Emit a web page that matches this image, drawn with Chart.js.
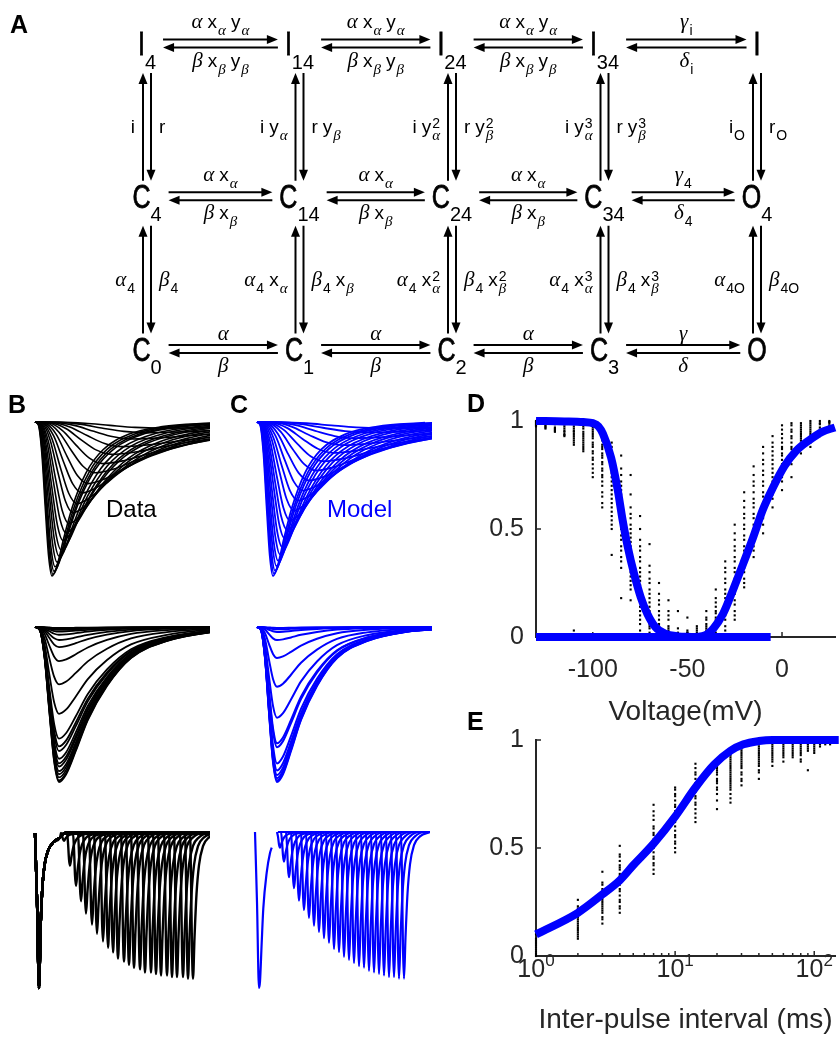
<!DOCTYPE html>
<html>
<head>
<meta charset="utf-8">
<script src="https://cdn.jsdelivr.net/npm/chart.js@4/dist/chart.umd.min.js"></script>
<style>
  body { margin: 0; background: #fff; }
  #page { position: relative; width: 839px; height: 1038px; overflow: hidden; font-family: "Liberation Sans", Arial, sans-serif; }
  canvas { position: absolute; }
  .lbl { position: absolute; line-height: 1; white-space: nowrap; }
  .panel { font-weight: bold; font-size: 25px; color: #000; }
</style>
</head>
<body>
<div id="page">
  <canvas id="chartA"></canvas>
  <canvas id="chartB1"></canvas>
  <canvas id="chartB2"></canvas>
  <canvas id="chartB3"></canvas>
  <canvas id="chartC1"></canvas>
  <canvas id="chartC2"></canvas>
  <canvas id="chartC3"></canvas>
  <canvas id="chartD"></canvas>
  <canvas id="chartE"></canvas>
  <div class="lbl panel" style="left:10px;top:12px">A</div>
  <div class="lbl panel" style="left:8px;top:392px">B</div>
  <div class="lbl panel" style="left:230px;top:392px">C</div>
  <div class="lbl panel" style="left:467px;top:391px">D</div>
  <div class="lbl panel" style="left:467px;top:709px">E</div>
  <div class="lbl" style="left:106px;top:497px;font-size:24px;color:#000">Data</div>
  <div class="lbl" style="left:327px;top:497px;font-size:24px;color:#0000ff">Model</div>
</div>
<script>
// ---------- A: kinetic scheme ----------
var stateRows = [
    ['I_4', 'I_14', 'I_24', 'I_34', 'I'],
    ['C_4', 'C_14', 'C_24', 'C_34', 'O_4'],
    ['C_0', 'C_1', 'C_2', 'C_3', 'O']
];
var rateRight = [
    ['α x_α y_α', 'α x_α y_α', 'α x_α y_α', 'γ_i'],
    ['α x_α', 'α x_α', 'α x_α', 'γ_4'],
    ['α', 'α', 'α', 'γ']
];
var rateLeft = [
    ['β x_β y_β', 'β x_β y_β', 'β x_β y_β', 'δ_i'],
    ['β x_β', 'β x_β', 'β x_β', 'δ_4'],
    ['β', 'β', 'β', 'δ']
];
var rateUp = [
    ['i', 'i y_α', 'i y^2_α', 'i y^3_α', 'i_O'],
    ['α_4', 'α_4 x_α', 'α_4 x^2_α', 'α_4 x^3_α', 'α_4O']
];
var rateDown = [
    ['r', 'r y_β', 'r y^2_β', 'r y^3_β', 'r_O'],
    ['β_4', 'β_4 x_β', 'β_4 x^2_β', 'β_4 x^3_β', 'β_4O']
];

// ---------- B/C top: activation family (time ms, normalised current) ----------
var actShapeU = [0, 0.2, 0.4, 0.6, 0.8, 1.0, 1.3, 1.7, 2.2, 3.0, 4.0, 5.5, 7.5, 10.5];
var actShapeF = [0, 0.02, 0.2, 0.55, 0.87, 1.0, 0.93, 0.75, 0.55, 0.33, 0.18, 0.08, 0.03, 0.005];
var dataActPeakT = [1.7, 1.8, 1.9, 2.0, 2.2, 2.4, 2.6, 2.8, 3.1, 3.4, 3.8, 4.2, 4.7, 5.3, 6.0, 6.8, 7.7, 8.7, 9.8, 11.1, 12.5];
var dataActPeakI = [-1.0, -0.99, -0.97, -0.94, -0.91, -0.87, -0.83, -0.77, -0.72, -0.66, -0.59, -0.53, -0.46, -0.4, -0.33, -0.27, -0.21, -0.16, -0.11, -0.07, -0.04];
var modelActPeakT = [1.6, 1.7, 1.8, 1.95, 2.1, 2.3, 2.5, 2.75, 3.0, 3.3, 3.7, 4.1, 4.6, 5.2, 5.9, 6.7, 7.6, 8.6, 9.7, 11.0, 12.4];
var modelActPeakI = [-1.0, -0.985, -0.965, -0.935, -0.9, -0.86, -0.81, -0.755, -0.7, -0.64, -0.575, -0.51, -0.445, -0.38, -0.315, -0.255, -0.2, -0.15, -0.105, -0.068, -0.04];

// ---------- B/C middle: steady-state inactivation ----------
var inaShapeU = [0, 0.2, 0.4, 0.6, 0.8, 1.0, 1.3, 1.7, 2.2, 3.0, 4.0, 5.5, 7.5, 9.5];
var inaShapeF = [0, 0.02, 0.2, 0.55, 0.87, 1.0, 0.95, 0.8, 0.6, 0.38, 0.2, 0.09, 0.03, 0.01];
var dataInaPeakT = 2.4;
var modelInaPeakT = 2.0;
var dataInaAmp = [-1.0, -0.99, -0.97, -0.95, -0.93, -0.9, -0.88, -0.85, -0.8, -0.77, -0.72, -0.56, -0.37, -0.22, -0.13, -0.084, -0.05, -0.03, -0.019, -0.012, -0.006];
var modelInaAmp = [-1.0, -0.99, -0.975, -0.955, -0.925, -0.88, -0.775, -0.75, -0.585, -0.385, -0.2, -0.084, -0.032, -0.015, -0.006];

// ---------- B/C bottom: paired pulses ----------
var spikeDt = [-3, -2, -1, 0, 1.5, 3.5, 6, 10, 16, 26];
var spikeF = [0, 0.3, 0.8, 1.0, 0.72, 0.42, 0.22, 0.09, 0.03, 0];
var dataFirstT = [0, 2, 4, 5.7, 7.7, 10, 13.3, 18.3, 25, 30];
var dataFirstI = [0, -0.43, -1.0, -0.59, -0.32, -0.19, -0.11, -0.06, -0.03, 0];
var dataPairT = [29, 35, 41, 46, 51, 57, 62, 68, 73, 78, 83, 89, 94, 99, 105, 110, 116, 121, 126, 132, 137, 142, 148, 153, 158];
var dataPairI = [-0.05, -0.21, -0.34, -0.44, -0.52, -0.59, -0.65, -0.7, -0.74, -0.77, -0.81, -0.83, -0.85, -0.87, -0.88, -0.9, -0.9, -0.91, -0.92, -0.92, -0.93, -0.93, -0.93, -0.94, -0.94];
var modelFirstT = [0, 2, 4, 5, 6.7, 8.3, 11.7, 15, 16.7];
var modelFirstI = [0, -0.45, -1.0, -0.96, -0.71, -0.49, -0.26, -0.135, -0.1];
var modelPairStart = 23;
var modelPairT = [25, 29, 34, 39, 44, 49, 54, 59, 64, 69, 74, 79, 84, 89, 94, 99, 104, 109, 114, 119, 124, 129, 134, 139, 144, 149];
var modelPairI = [-0.1, -0.19, -0.29, -0.36, -0.44, -0.5, -0.55, -0.6, -0.64, -0.68, -0.71, -0.75, -0.77, -0.8, -0.82, -0.84, -0.86, -0.87, -0.89, -0.9, -0.91, -0.92, -0.93, -0.93, -0.94, -0.94];

// ---------- D: inactivation / activation (mV, normalised) ----------
var inactV = [-130, -125, -120, -115, -110, -105, -100, -95, -90, -85, -80, -75, -70, -65, -60, -55, -50];
var inactDots = [
    [1.0, 0.995, 0.99, 0.985, 0.98, 0.975],
    [0.995, 0.99, 0.98, 0.975, 0.97, 0.965],
    [0.99, 0.985, 0.97, 0.965, 0.96, 0.955, 0.95],
    [0.985, 0.975, 0.965, 0.955, 0.95, 0.94, 0.935, 0.93],
    [0.975, 0.965, 0.955, 0.95, 0.94, 0.93, 0.92, 0.91, 0.9, 0.89, 0.03],
    [0.975, 0.965, 0.95, 0.94, 0.93, 0.92, 0.91, 0.9, 0.89, 0.88, 0.87, 0.86],
    [0.99, 0.98, 0.97, 0.96, 0.95, 0.94, 0.93, 0.92, 0.9, 0.89, 0.88, 0.86, 0.85, 0.83, 0.82, 0.8, 0.78, 0.76, 0.74],
    [0.94, 0.92, 0.91, 0.89, 0.88, 0.87, 0.85, 0.84, 0.83, 0.81, 0.8, 0.78, 0.77, 0.75, 0.74, 0.72, 0.7, 0.67, 0.65, 0.62, 0.6],
    [0.9, 0.88, 0.86, 0.84, 0.82, 0.8, 0.78, 0.76, 0.74, 0.72, 0.7, 0.68, 0.66, 0.64, 0.62, 0.6, 0.58, 0.56, 0.54, 0.52, 0.5, 0.38],
    [0.84, 0.78, 0.75, 0.72, 0.7, 0.68, 0.66, 0.64, 0.62, 0.6, 0.58, 0.56, 0.54, 0.52, 0.5, 0.47, 0.45, 0.42, 0.4, 0.37, 0.35, 0.32, 0.18],
    [0.75, 0.66, 0.6, 0.57, 0.55, 0.52, 0.5, 0.48, 0.46, 0.44, 0.42, 0.4, 0.38, 0.36, 0.34, 0.32, 0.3, 0.28, 0.26, 0.24, 0.22, 0.17],
    [0.56, 0.5, 0.45, 0.42, 0.4, 0.37, 0.35, 0.32, 0.3, 0.28, 0.26, 0.24, 0.22, 0.2, 0.18, 0.16, 0.14, 0.12, 0.1, 0.08, 0.06, 0.03],
    [0.43, 0.33, 0.3, 0.27, 0.25, 0.22, 0.2, 0.18, 0.16, 0.14, 0.12, 0.1, 0.09, 0.07, 0.06, 0.05, 0.04, 0.02, 0.01],
    [0.25, 0.2, 0.17, 0.15, 0.12, 0.1, 0.08, 0.06, 0.05, 0.03, 0.02, 0.01, 0.0],
    [0.17, 0.12, 0.1, 0.08, 0.05, 0.04, 0.03, 0.01],
    [0.12, 0.04, 0.02, 0.01],
    [0.09, 0.02]
];
var actV = [-50, -45, -40, -35, -30, -25, -20, -15, -10, -5, 0, 5, 10, 15, 20, 25];
var actDots = [
    [0.03, 0.02, 0.01, 0.0],
    [0.05, 0.04, 0.03, 0.02, 0.01],
    [0.12, 0.09, 0.08, 0.06, 0.05, 0.04, 0.03, 0.01],
    [0.22, 0.18, 0.16, 0.14, 0.12, 0.11, 0.09, 0.08, 0.07, 0.05, 0.04, 0.02],
    [0.35, 0.32, 0.3, 0.27, 0.25, 0.22, 0.2, 0.18, 0.16, 0.14, 0.12, 0.1, 0.08, 0.05, 0.03],
    [0.52, 0.48, 0.45, 0.42, 0.4, 0.37, 0.35, 0.32, 0.3, 0.27, 0.25, 0.22, 0.2, 0.17, 0.15, 0.12, 0.1, 0.08],
    [0.67, 0.63, 0.6, 0.57, 0.55, 0.52, 0.5, 0.47, 0.45, 0.42, 0.4, 0.37, 0.35, 0.32, 0.3, 0.27, 0.25, 0.23],
    [0.79, 0.75, 0.72, 0.7, 0.67, 0.64, 0.62, 0.6, 0.57, 0.55, 0.52, 0.5, 0.47, 0.45, 0.42, 0.4, 0.37],
    [0.88, 0.85, 0.82, 0.8, 0.77, 0.75, 0.72, 0.7, 0.67, 0.65, 0.62, 0.6, 0.57, 0.55, 0.52, 0.48],
    [0.93, 0.9, 0.88, 0.86, 0.84, 0.82, 0.8, 0.78, 0.76, 0.74, 0.72, 0.7, 0.68, 0.66, 0.64, 0.6],
    [0.98, 0.96, 0.94, 0.92, 0.9, 0.88, 0.87, 0.85, 0.84, 0.82, 0.8, 0.78, 0.76, 0.74, 0.72, 0.68],
    [0.99, 0.98, 0.96, 0.95, 0.93, 0.92, 0.9, 0.88, 0.87, 0.85, 0.84, 0.82, 0.8, 0.74],
    [0.99, 0.98, 0.97, 0.96, 0.95, 0.94, 0.93, 0.92, 0.91, 0.9, 0.88, 0.85],
    [1.0, 0.99, 0.98, 0.97, 0.96, 0.95, 0.94, 0.93, 0.92, 0.9, 0.88],
    [1.0, 0.99, 0.985, 0.97, 0.96, 0.95, 0.93],
    [1.0, 0.995, 0.99, 0.98, 0.97, 0.96]
];
var inactFitV = [-130, -115, -105, -100, -97, -94.6, -90.3, -86.8, -84.2, -81.6, -78.1, -74.7, -71.2, -66.9, -61.7, -55, -48];
var inactFitY = [1.0, 0.998, 0.995, 0.99, 0.975, 0.94, 0.83, 0.68, 0.54, 0.42, 0.29, 0.185, 0.108, 0.046, 0.015, 0.003, 0.0];
var actFitV = [-55, -48.4, -40.6, -36.2, -31, -25.8, -20.5, -15.3, -10.1, -4.9, 1.2, 7.3, 14.2, 21.2, 28];
var actFitY = [0.0, 0.0, 0.008, 0.04, 0.11, 0.22, 0.34, 0.46, 0.59, 0.69, 0.79, 0.86, 0.91, 0.95, 0.97];
var zeroLineV = [-130, -6];
var zeroLineY = [0, 0];
var dTicksX = [-100, -50, 0];
var dTicksY = [0, 0.5, 1];

// ---------- E: recovery from inactivation ----------
var ipi = [1, 2, 3, 4, 7, 10, 14, 20, 25, 30, 40, 50, 60, 70, 80, 90, 100, 110, 120, 130, 140];
var ipiDots = [
    [0.1, 0.08, 0.07, 0.06, 0.05, 0.04, 0.03, 0.02, 0.01, 0.0],
    [0.26, 0.23, 0.22, 0.21, 0.2, 0.19, 0.18, 0.17, 0.16, 0.15, 0.14, 0.13, 0.12, 0.11, 0.1, 0.09, 0.08],
    [0.39, 0.34, 0.33, 0.31, 0.3, 0.29, 0.28, 0.27, 0.26, 0.25, 0.24, 0.23, 0.22, 0.21, 0.2, 0.18, 0.17, 0.15],
    [0.51, 0.47, 0.46, 0.44, 0.42, 0.41, 0.4, 0.38, 0.37, 0.35, 0.34, 0.33, 0.31, 0.3, 0.28, 0.26, 0.25, 0.23, 0.22, 0.2],
    [0.7, 0.67, 0.65, 0.63, 0.6, 0.59, 0.57, 0.56, 0.54, 0.53, 0.51, 0.5, 0.48, 0.46, 0.45, 0.43, 0.42, 0.4, 0.38],
    [0.78, 0.77, 0.75, 0.74, 0.72, 0.7, 0.69, 0.67, 0.66, 0.64, 0.62, 0.6, 0.58, 0.56, 0.55, 0.53, 0.52, 0.5, 0.48],
    [0.89, 0.87, 0.85, 0.84, 0.82, 0.8, 0.79, 0.77, 0.76, 0.74, 0.73, 0.71, 0.7, 0.68, 0.66, 0.64, 0.62],
    [0.91, 0.9, 0.88, 0.87, 0.86, 0.85, 0.84, 0.82, 0.81, 0.8, 0.78, 0.77, 0.75, 0.72, 0.68],
    [0.96, 0.94, 0.93, 0.92, 0.91, 0.9, 0.89, 0.88, 0.87, 0.86, 0.85, 0.84, 0.83, 0.82, 0.81, 0.8, 0.79, 0.78, 0.77, 0.75, 0.73, 0.71],
    [0.98, 0.96, 0.95, 0.94, 0.93, 0.92, 0.91, 0.9, 0.89, 0.88, 0.87, 0.85, 0.84, 0.82, 0.81, 0.79],
    [0.98, 0.97, 0.96, 0.95, 0.94, 0.93, 0.92, 0.91, 0.9, 0.89, 0.88, 0.86, 0.85, 0.82],
    [0.98, 0.97, 0.96, 0.95, 0.94, 0.93, 0.92, 0.91, 0.9, 0.88],
    [0.99, 0.98, 0.97, 0.96, 0.95, 0.94, 0.93, 0.92, 0.9],
    [0.99, 0.98, 0.97, 0.96, 0.95, 0.94, 0.93, 0.92],
    [0.99, 0.98, 0.97, 0.96, 0.95, 0.94, 0.93, 0.91, 0.9],
    [0.99, 0.985, 0.98, 0.97, 0.96, 0.95, 0.86],
    [1.0, 0.99, 0.98, 0.97, 0.96, 0.95, 0.94],
    [1.0, 0.995, 0.99, 0.98, 0.97],
    [1.0, 0.995, 0.99, 0.98],
    [1.0, 0.995, 0.99, 0.98],
    [1.0, 0.995, 0.99]
];
var recFitT = [1, 2, 3, 4, 5, 7, 10, 14, 19, 25, 31, 40, 50, 65, 100, 150];
var recFitY = [0.1, 0.2, 0.285, 0.35, 0.42, 0.52, 0.645, 0.78, 0.885, 0.95, 0.98, 0.995, 1.0, 1.0, 1.0, 1.0];
var eTicksMajor = [1, 10, 100];
var eTicksMinor = [2, 3, 4, 5, 6, 7, 8, 9, 20, 30, 40, 50, 60, 70, 80, 90];
var eTicksY = [0, 0.5, 1];

var BLUE = '#0000ff';
var AXIS = '#262626';
var SANS = '"Liberation Sans", Arial, sans-serif';
var GREEK = /[αβγδ]/;

function place(id, left, top, width, height) {
    var c = document.getElementById(id);
    c.width = width;
    c.height = height;
    c.style.left = left + 'px';
    c.style.top = top + 'px';
    c.style.width = width + 'px';
    c.style.height = height + 'px';
    return c;
}

function xy(xs, ys) {
    return xs.map(function (x, i) { return { x: x, y: ys[i] }; });
}

// ---------- rich text for the scheme ----------
function setFont(ctx, ch, size) {
    ctx.font = GREEK.test(ch) ? 'italic ' + Math.round(size * 1.1) + 'px "Liberation Serif"' : size + 'px ' + SANS;
}
function runWidth(ctx, s, size) {
    var w = 0;
    for (var i = 0; i < s.length; i++) { setFont(ctx, s[i], size); w += ctx.measureText(s[i]).width; }
    return w;
}
function drawRun(ctx, s, size, x, y) {
    for (var i = 0; i < s.length; i++) {
        setFont(ctx, s[i], size);
        ctx.fillText(s[i], x, y);
        x += ctx.measureText(s[i]).width;
    }
    return x;
}
function parseWord(w) {
    var m = /^(.)(?:\^([^_]*))?(?:_(.*))?$/.exec(w);
    return { base: m[1], sup: m[2] || '', sub: m[3] || '' };
}
function hasScript(text) {
    return /[\^_]/.test(text);
}
function drawRate(ctx, text, x, y, align) {
    var main = 19, script = 14, gap = 5;
    var words = text.split(' ').map(parseWord);
    var widths = words.map(function (p) {
        var w = runWidth(ctx, p.base, main);
        if (p.sup || p.sub) w += 1 + Math.max(runWidth(ctx, p.sup, script), runWidth(ctx, p.sub, script));
        return w;
    });
    var total = widths.reduce(function (a, b) { return a + b; }, 0) + gap * (words.length - 1);
    var cx = align === 'center' ? x - total / 2 : (align === 'right' ? x - total : x);
    ctx.textAlign = 'left';
    ctx.textBaseline = 'alphabetic';
    words.forEach(function (p, i) {
        var ex = drawRun(ctx, p.base, main, cx, y) + 1;
        if (p.sup) drawRun(ctx, p.sup, script, ex, y - 5);
        if (p.sub) drawRun(ctx, p.sub, script, ex, y + 7);
        cx += widths[i] + gap;
    });
}
function drawState(ctx, name, cx, cy) {
    var p = parseWord(name);
    ctx.font = '25px ' + SANS;
    var wb = ctx.measureText(p.base).width;
    ctx.font = '20px ' + SANS;
    var ws = p.sub ? ctx.measureText(p.sub).width : 0;
    var left = cx - (wb + ws) / 2, base = cy + 11.5;
    ctx.textAlign = 'left';
    ctx.textBaseline = 'alphabetic';
    ctx.save();
    ctx.translate(left, base);
    ctx.scale(1, 1.3);
    ctx.font = '25px ' + SANS;
    ctx.lineWidth = 0.6;
    ctx.fillText(p.base, 0, 0);
    ctx.strokeText(p.base, 0, 0);
    ctx.restore();
    if (p.sub) {
        ctx.font = '20px ' + SANS;
        ctx.fillText(p.sub, left + wb, base + 13.5);
    }
    return { left: left, right: left + wb + ws };
}
function arrow(ctx, x1, y1, x2, y2) {
    var ang = Math.atan2(y2 - y1, x2 - x1), L = 11, W = 4.5;
    var c = Math.cos(ang), s = Math.sin(ang);
    var bx = x2 - L * c, by = y2 - L * s;
    ctx.lineWidth = 2;
    ctx.beginPath();
    ctx.moveTo(x1, y1);
    ctx.lineTo(bx + 2 * c, by + 2 * s);
    ctx.stroke();
    ctx.beginPath();
    ctx.moveTo(x2, y2);
    ctx.lineTo(bx + W * s, by - W * c);
    ctx.lineTo(bx - W * s, by + W * c);
    ctx.closePath();
    ctx.fill();
}

var schemePlugin = {
    id: 'scheme',
    afterDatasetsDraw: function (chart) {
        var ctx = chart.ctx, xs = chart.scales.x, ys = chart.scales.y;
        ctx.save();
        ctx.fillStyle = '#000';
        ctx.strokeStyle = '#000';
        var boxes = stateRows.map(function (row, r) {
            return row.map(function (name, c) {
                return drawState(ctx, name, xs.getPixelForValue(c), ys.getPixelForValue(r));
            });
        });
        for (var r = 0; r < stateRows.length; r++) {
            var yr = ys.getPixelForValue(r);
            for (var c = 0; c < stateRows[r].length - 1; c++) {
                var x1 = boxes[r][c].right + 7, x2 = boxes[r][c + 1].left - 7, xm = (x1 + x2) / 2;
                arrow(ctx, x1, yr - 4, x2, yr - 4);
                arrow(ctx, x2, yr + 4, x1, yr + 4);
                drawRate(ctx, rateRight[r][c], xm, yr - 4 - (hasScript(rateRight[r][c]) ? 11.5 : 5), 'center');
                drawRate(ctx, rateLeft[r][c], xm, yr + 4 + 19, 'center');
            }
        }
        for (var r2 = 0; r2 < rateUp.length; r2++) {
            var y1 = ys.getPixelForValue(r2) + 29.5, y2 = ys.getPixelForValue(r2 + 1) - 15.5, ym = (y1 + y2) / 2 + 6;
            for (var c2 = 0; c2 < rateUp[r2].length; c2++) {
                var xc = xs.getPixelForValue(c2);
                arrow(ctx, xc - 4, y2, xc - 4, y1);
                arrow(ctx, xc + 4, y1, xc + 4, y2);
                drawRate(ctx, rateUp[r2][c2], xc - 12, ym, 'right');
                drawRate(ctx, rateDown[r2][c2], xc + 12, ym, 'left');
            }
        }
        ctx.restore();
    }
};

var statePts = [];
stateRows.forEach(function (row, r) {
    row.forEach(function (name, c) { statePts.push({ x: c, y: r }); });
});

new Chart(place('chartA', 0, 0, 839, 390), {
    type: 'scatter',
    data: { datasets: [{ data: statePts, pointRadius: 0 }] },
    options: {
        responsive: false, animation: false, events: [],
        layout: { padding: { left: 147, right: 82, top: 43.5, bottom: 41 } },
        plugins: { legend: { display: false }, tooltip: { enabled: false } },
        scales: {
            x: { type: 'linear', display: false, min: 0, max: 4 },
            y: { type: 'linear', display: false, min: 0, max: 2, reverse: true }
        }
    },
    plugins: [schemePlugin]
});

// ---------- current traces ----------
var PAD = 6;
function shapeTrace(tp, amp, shapeU, shapeF) {
    return shapeU.map(function (u, i) { return { x: u * tp, y: amp * shapeF[i] }; });
}
function pairTrace(firstT, firstI, startT, peakT, peakI, endT) {
    var pts = [];
    var s0 = peakT + spikeDt[0];
    if (firstT) {
        firstT.forEach(function (t, i) { if (t < s0) pts.push({ x: t, y: firstI[i] }); });
    } else if (startT < s0) {
        pts.push({ x: startT, y: 0 });
    }
    spikeDt.forEach(function (d, i) { pts.push({ x: peakT + d, y: peakI * spikeF[i] }); });
    if (pts[pts.length - 1].x < endT) pts.push({ x: endT, y: 0 });
    return pts;
}
function traceSet(points, color, width) {
    return {
        data: points, borderColor: color, borderWidth: width, pointRadius: 0, fill: false,
        cubicInterpolationMode: 'monotone', clip: { left: PAD, top: PAD, right: 0, bottom: PAD }
    };
}
function traceChart(id, left, top, width, height, xMax, datasets) {
    return new Chart(place(id, left - PAD, top - PAD, width + 2 * PAD, height + 2 * PAD), {
        type: 'line',
        data: { datasets: datasets },
        options: {
            responsive: false, animation: false, events: [],
            layout: { padding: PAD },
            plugins: { legend: { display: false }, tooltip: { enabled: false } },
            scales: {
                x: { type: 'linear', display: false, min: 0, max: xMax },
                y: { type: 'linear', display: false, min: -1, max: 0 }
            }
        }
    });
}

traceChart('chartB1', 35, 422, 175, 154, 17.5, dataActPeakT.map(function (tp, i) {
    return traceSet(shapeTrace(tp, dataActPeakI[i], actShapeU, actShapeF), '#000', 1.6);
}));
traceChart('chartC1', 257, 422, 175, 154, 17.5, modelActPeakT.map(function (tp, i) {
    return traceSet(shapeTrace(tp, modelActPeakI[i], actShapeU, actShapeF), BLUE, 1.8);
}));
traceChart('chartB2', 35, 627, 175, 155, 17.5, dataInaAmp.map(function (a) {
    return traceSet(shapeTrace(dataInaPeakT, a, inaShapeU, inaShapeF), '#000', 1.8);
}));
traceChart('chartC2', 257, 627, 175, 155, 17.5, modelInaAmp.map(function (a) {
    return traceSet(shapeTrace(modelInaPeakT, a, inaShapeU, inaShapeF), BLUE, 2);
}));
traceChart('chartB3', 35, 833, 175, 155, 175, dataPairT.map(function (t, i) {
    return traceSet(pairTrace(dataFirstT, dataFirstI, 0, t, dataPairI[i], 175), '#000', 2.4);
}));
traceChart('chartC3', 255, 832, 175, 156, 175, [traceSet(xy(modelFirstT, modelFirstI), BLUE, 2.2)].concat(
    modelPairT.map(function (t, i) {
        return traceSet(pairTrace(null, null, modelPairStart, t, modelPairI[i], 175), BLUE, 2.2);
    })
));

// ---------- D and E ----------
var axisExtras = {
    id: 'axisExtras',
    beforeDatasetsDraw: function (chart, args, opts) {
        var ctx = chart.ctx, x = chart.scales.x, y = chart.scales.y, a = chart.chartArea;
        ctx.save();
        ctx.strokeStyle = AXIS;
        ctx.lineWidth = 1.5;
        function seg(x1, y1, x2, y2) { ctx.beginPath(); ctx.moveTo(x1, y1); ctx.lineTo(x2, y2); ctx.stroke(); }
        (opts.xMajor || []).forEach(function (v) { var p = x.getPixelForValue(v); seg(p, a.bottom, p, a.bottom - 5); });
        (opts.xMinor || []).forEach(function (v) { var p = x.getPixelForValue(v); seg(p, a.bottom, p, a.bottom - 3); });
        (opts.yTicks || []).forEach(function (v) { var p = y.getPixelForValue(v); seg(a.left, p, a.left + 5, p); });
        ctx.restore();
    },
    afterDraw: function (chart, args, opts) {
        if (!opts.powerTicks) return;
        var ctx = chart.ctx, x = chart.scales.x, a = chart.chartArea;
        ctx.save();
        ctx.fillStyle = AXIS;
        ctx.textAlign = 'left';
        ctx.textBaseline = 'alphabetic';
        opts.powerTicks.forEach(function (v) {
            var px = x.getPixelForValue(v), ex = String(Math.round(Math.log10(v)));
            ctx.font = '25px ' + SANS;
            var wb = ctx.measureText('10').width;
            ctx.font = '17px ' + SANS;
            var we = ctx.measureText(ex).width;
            var left = px - (wb + we) / 2;
            ctx.font = '25px ' + SANS;
            ctx.fillText('10', left, a.bottom + 21);
            ctx.font = '17px ' + SANS;
            ctx.fillText(ex, left + wb, a.bottom + 10);
        });
        ctx.restore();
    }
};

function fitSet(xs, ys) {
    return {
        data: xy(xs, ys), borderColor: BLUE, borderWidth: 8, pointRadius: 0, fill: false,
        cubicInterpolationMode: 'monotone', clip: 8
    };
}
function dotSet(xs, groups) {
    var pts = [];
    xs.forEach(function (x, i) { groups[i].forEach(function (v) { pts.push({ x: x, y: v }); }); });
    return {
        data: pts, showLine: false, pointStyle: 'rect', pointRadius: 1.5, borderWidth: 0,
        backgroundColor: '#000', clip: 8
    };
}
function tickFont(size) {
    return { family: SANS, size: size, lineHeight: 1 };
}
function plainTick(v) {
    return String(v);
}
function yScale(ticks) {
    return {
        type: 'linear', min: 0, max: 1,
        grid: { display: false, drawTicks: false },
        border: { display: true, color: AXIS, width: 2 },
        afterBuildTicks: function (s) { s.ticks = ticks.map(function (v) { return { value: v }; }); },
        afterFit: function (s) { s.width = 96; },
        ticks: { font: tickFont(25), color: AXIS, padding: 12, callback: plainTick }
    };
}

new Chart(place('chartD', 440, 380, 399, 350), {
    type: 'line',
    data: {
        datasets: [
            fitSet(inactFitV, inactFitY),
            fitSet(actFitV, actFitY),
            fitSet(zeroLineV, zeroLineY),
            dotSet(inactV, inactDots),
            dotSet(actV, actDots)
        ]
    },
    options: {
        responsive: false, animation: false, events: [],
        layout: { padding: { top: 41, left: 0, right: 0, bottom: 0 } },
        plugins: {
            legend: { display: false }, tooltip: { enabled: false },
            axisExtras: { xMajor: dTicksX, yTicks: dTicksY }
        },
        scales: {
            x: {
                type: 'linear', min: -130, max: 28,
                grid: { display: false, drawTicks: false },
                border: { display: true, color: AXIS, width: 2 },
                afterBuildTicks: function (s) { s.ticks = dTicksX.map(function (v) { return { value: v }; }); },
                afterFit: function (s) { s.height = 93; },
                ticks: { font: tickFont(25), color: AXIS, padding: 21, maxRotation: 0, autoSkip: false, callback: plainTick },
                title: { display: true, text: 'Voltage(mV)', color: AXIS, font: tickFont(28), padding: { top: 0, bottom: 4 } }
            },
            y: yScale(dTicksY)
        }
    },
    plugins: [axisExtras]
});

new Chart(place('chartE', 440, 700, 399, 338), {
    type: 'line',
    data: {
        datasets: [
            fitSet(recFitT, recFitY),
            dotSet(ipi, ipiDots)
        ]
    },
    options: {
        responsive: false, animation: false, events: [],
        layout: { padding: { top: 40, left: 0, right: 0, bottom: 0 } },
        plugins: {
            legend: { display: false }, tooltip: { enabled: false },
            axisExtras: { xMajor: eTicksMajor, xMinor: eTicksMinor, yTicks: eTicksY, powerTicks: eTicksMajor }
        },
        scales: {
            x: {
                type: 'logarithmic', min: 1, max: 141,
                grid: { display: false, drawTicks: false },
                border: { display: true, color: AXIS, width: 2 },
                afterFit: function (s) { s.height = 82; },
                ticks: { display: false },
                title: { display: true, text: 'Inter-pulse interval (ms)', color: AXIS, font: tickFont(28), padding: { top: 0, bottom: 4 } }
            },
            y: yScale(eTicksY)
        }
    },
    plugins: [axisExtras]
});
</script>
</body>
</html>
